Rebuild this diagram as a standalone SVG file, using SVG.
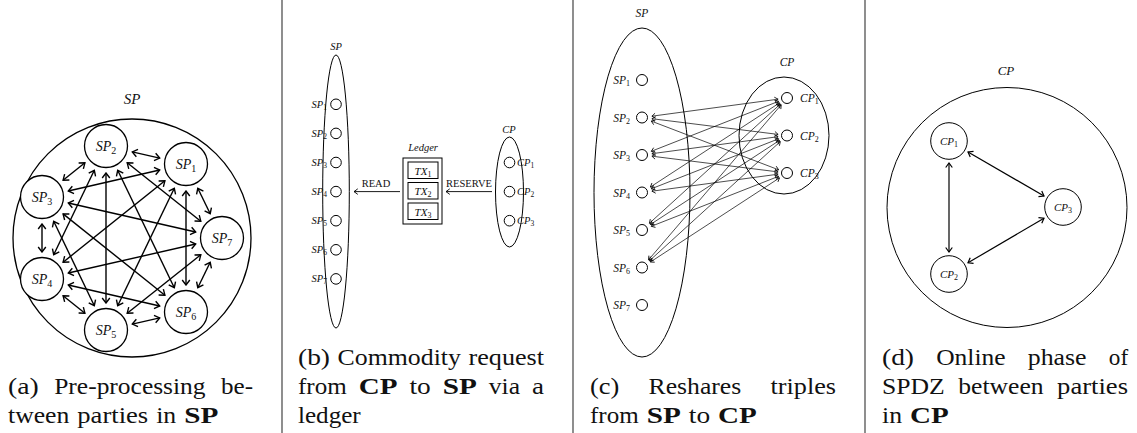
<svg xmlns="http://www.w3.org/2000/svg" width="1137" height="433" viewBox="0 0 1137 433">
<defs>
<style>
text{font-family:"Liberation Serif","DejaVu Serif",serif;fill:#111}
.m{font-style:italic}
.b{font-weight:bold}
.cap{font-size:24px}
.ln{fill:none;stroke:#000}
.na{fill:#fff;stroke:#000;stroke-width:1.3}
.nb{fill:none;stroke:#000;stroke-width:1}
.ea{stroke:#000;stroke-width:1.4;fill:none;marker-start:url(#ha);marker-end:url(#ha)}
.ec{stroke:#000;stroke-width:0.7;fill:none;marker-start:url(#hc);marker-end:url(#hc)}
.ed{stroke:#000;stroke-width:1.2;fill:none;marker-start:url(#hd);marker-end:url(#hd)}
.eb{stroke:#000;stroke-width:0.9;fill:none;marker-end:url(#hb)}
.sep{stroke:#444;stroke-width:1.2}
.la{font-size:14px}
.lb{font-size:10.5px}
.lc{font-size:11.5px}
</style>
<marker id="ha" markerUnits="userSpaceOnUse" markerWidth="8" markerHeight="12" viewBox="-7 -6 8 12" refX="0" refY="0" orient="auto-start-reverse"><path d="M-5,-3.8 L0,0 L-5,3.8" fill="none" stroke="#000" stroke-width="1.4"/></marker>
<marker id="hc" markerUnits="userSpaceOnUse" markerWidth="6" markerHeight="8" viewBox="-5 -4 6 8" refX="0" refY="0" orient="auto-start-reverse"><path d="M-3.5,-2.5 L0,0 L-3.5,2.5" fill="none" stroke="#000" stroke-width="0.8"/></marker>
<marker id="hd" markerUnits="userSpaceOnUse" markerWidth="8" markerHeight="10" viewBox="-6 -5 8 10" refX="0" refY="0" orient="auto-start-reverse"><path d="M-4.5,-3.3 L0,0 L-4.5,3.3" fill="none" stroke="#000" stroke-width="1.2"/></marker>
<marker id="hb" markerUnits="userSpaceOnUse" markerWidth="7" markerHeight="8" viewBox="-5 -4 7 8" refX="0" refY="0" orient="auto"><path d="M-3.8,-2.8 L0,0 L-3.8,2.8" fill="none" stroke="#000" stroke-width="0.9"/></marker>
</defs>

<g id="separators">
<line x1="282" y1="0" x2="282" y2="433" class="sep"/>
<line x1="573" y1="0" x2="573" y2="433" class="sep"/>
<line x1="865" y1="0" x2="865" y2="433" class="sep"/>
</g>

<!-- Panel (a) -->
<g id="a-group">
<circle cx="132" cy="238" r="119" class="ln" stroke-width="1.3"/>
<text x="132" y="104" class="m" font-size="15" text-anchor="middle">SP</text>
</g>
<g id="a-connectors">
<line x1="159.7" y1="158.1" x2="132.3" y2="151.9" class="ea"/>
<line x1="159.7" y1="170.0" x2="68.3" y2="191.0" class="ea"/>
<line x1="164.9" y1="180.8" x2="63.1" y2="262.2" class="ea"/>
<line x1="174.3" y1="188.3" x2="117.7" y2="305.7" class="ea"/>
<line x1="186" y1="191" x2="186" y2="285" class="ea"/>
<line x1="197.8" y1="188.3" x2="210.2" y2="213.7" class="ea"/>
<line x1="84.9" y1="162.8" x2="63.1" y2="180.2" class="ea"/>
<line x1="94.3" y1="170.3" x2="53.7" y2="254.7" class="ea"/>
<line x1="106" y1="173" x2="106" y2="303" class="ea"/>
<line x1="117.7" y1="170.3" x2="174.3" y2="287.7" class="ea"/>
<line x1="127.2" y1="162.8" x2="200.8" y2="221.2" class="ea"/>
<line x1="42" y1="224" x2="42" y2="252" class="ea"/>
<line x1="53.7" y1="221.3" x2="94.3" y2="305.7" class="ea"/>
<line x1="63.1" y1="213.9" x2="164.9" y2="295.2" class="ea"/>
<line x1="68.3" y1="203.0" x2="195.7" y2="232.0" class="ea"/>
<line x1="63.1" y1="295.8" x2="84.9" y2="313.2" class="ea"/>
<line x1="68.3" y1="285.0" x2="159.7" y2="306.0" class="ea"/>
<line x1="68.3" y1="273.0" x2="195.7" y2="244.0" class="ea"/>
<line x1="132.3" y1="324.1" x2="159.7" y2="317.9" class="ea"/>
<line x1="127.2" y1="313.2" x2="200.8" y2="254.8" class="ea"/>
<line x1="197.8" y1="287.7" x2="210.2" y2="262.3" class="ea"/>
</g>
<g id="a-SP1"><circle cx="186" cy="164" r="21.5" class="na"/><text x="186" y="169" class="m la" text-anchor="middle">SP<tspan font-size="10" font-style="normal" dy="3">1</tspan></text></g>
<g id="a-SP2"><circle cx="106" cy="146" r="21.5" class="na"/><text x="106" y="151" class="m la" text-anchor="middle">SP<tspan font-size="10" font-style="normal" dy="3">2</tspan></text></g>
<g id="a-SP3"><circle cx="42" cy="197" r="21.5" class="na"/><text x="42" y="202" class="m la" text-anchor="middle">SP<tspan font-size="10" font-style="normal" dy="3">3</tspan></text></g>
<g id="a-SP4"><circle cx="42" cy="279" r="21.5" class="na"/><text x="42" y="284" class="m la" text-anchor="middle">SP<tspan font-size="10" font-style="normal" dy="3">4</tspan></text></g>
<g id="a-SP5"><circle cx="106" cy="330" r="21.5" class="na"/><text x="106" y="335" class="m la" text-anchor="middle">SP<tspan font-size="10" font-style="normal" dy="3">5</tspan></text></g>
<g id="a-SP6"><circle cx="186" cy="312" r="21.5" class="na"/><text x="186" y="317" class="m la" text-anchor="middle">SP<tspan font-size="10" font-style="normal" dy="3">6</tspan></text></g>
<g id="a-SP7"><circle cx="222" cy="238" r="21.5" class="na"/><text x="222" y="243" class="m la" text-anchor="middle">SP<tspan font-size="10" font-style="normal" dy="3">7</tspan></text></g>
<g id="a-caption" class="cap">
<text x="8" y="394" textLength="30.7" lengthAdjust="spacingAndGlyphs">(a)</text>
<text x="54.2" y="394" textLength="151.4" lengthAdjust="spacingAndGlyphs">Pre-processing</text>
<text x="221" y="394" textLength="32" lengthAdjust="spacingAndGlyphs">be-</text>
<text x="8" y="423" textLength="61.3" lengthAdjust="spacingAndGlyphs">tween</text>
<text x="77.3" y="423" textLength="70.9" lengthAdjust="spacingAndGlyphs">parties</text>
<text x="156.2" y="423" textLength="20" lengthAdjust="spacingAndGlyphs">in</text>
<text x="184.2" y="423" class="b" textLength="34.1" lengthAdjust="spacingAndGlyphs">SP</text>
</g>

<!-- Panel (b) -->
<g id="b-SP">
<ellipse cx="336" cy="191.5" rx="13.3" ry="136.5" class="nb"/>
<text x="336" y="50" class="m lb" text-anchor="middle">SP</text>
</g>
<g id="b-SP1"><circle cx="336" cy="104.3" r="5.3" class="nb"/><text x="327" y="108" class="m lb" text-anchor="end">SP<tspan font-size="7.5" font-style="normal" dy="2">1</tspan></text></g>
<g id="b-SP2"><circle cx="336" cy="133.4" r="5.3" class="nb"/><text x="327" y="137" class="m lb" text-anchor="end">SP<tspan font-size="7.5" font-style="normal" dy="2">2</tspan></text></g>
<g id="b-SP3"><circle cx="336" cy="162.5" r="5.3" class="nb"/><text x="327" y="166" class="m lb" text-anchor="end">SP<tspan font-size="7.5" font-style="normal" dy="2">3</tspan></text></g>
<g id="b-SP4"><circle cx="336" cy="191.6" r="5.3" class="nb"/><text x="327" y="195" class="m lb" text-anchor="end">SP<tspan font-size="7.5" font-style="normal" dy="2">4</tspan></text></g>
<g id="b-SP5"><circle cx="336" cy="220.7" r="5.3" class="nb"/><text x="327" y="224" class="m lb" text-anchor="end">SP<tspan font-size="7.5" font-style="normal" dy="2">5</tspan></text></g>
<g id="b-SP6"><circle cx="336" cy="249.8" r="5.3" class="nb"/><text x="327" y="253" class="m lb" text-anchor="end">SP<tspan font-size="7.5" font-style="normal" dy="2">6</tspan></text></g>
<g id="b-SP7"><circle cx="336" cy="278.9" r="5.3" class="nb"/><text x="327" y="282" class="m lb" text-anchor="end">SP<tspan font-size="7.5" font-style="normal" dy="2">7</tspan></text></g>
<g id="b-ledger">
<text x="423" y="151" class="m lb" text-anchor="middle">Ledger</text>
<rect x="403" y="158" width="39" height="66" class="nb" stroke-width="1.1"/>
<rect x="408" y="162" width="30" height="16.5" class="nb"/>
<rect x="408" y="182.5" width="30" height="16.5" class="nb"/>
<rect x="408" y="203" width="30" height="16.5" class="nb"/>
<text x="423" y="174.5" class="m" font-size="11" text-anchor="middle">TX<tspan font-size="8" font-style="normal" dy="2">1</tspan></text>
<text x="423" y="195" class="m" font-size="11" text-anchor="middle">TX<tspan font-size="8" font-style="normal" dy="2">2</tspan></text>
<text x="423" y="215.5" class="m" font-size="11" text-anchor="middle">TX<tspan font-size="8" font-style="normal" dy="2">3</tspan></text>
</g>
<g id="b-CP">
<ellipse cx="509.5" cy="192" rx="14" ry="55" class="nb"/>
<text x="509" y="133" class="m lb" text-anchor="middle">CP</text>
</g>
<g id="b-CP1"><circle cx="509.5" cy="162.5" r="5.3" class="nb"/><text x="517" y="166" class="m lb">CP<tspan font-size="7.5" font-style="normal" dy="2">1</tspan></text></g>
<g id="b-CP2"><circle cx="509.5" cy="191.6" r="5.3" class="nb"/><text x="517" y="195" class="m lb">CP<tspan font-size="7.5" font-style="normal" dy="2">2</tspan></text></g>
<g id="b-CP3"><circle cx="509.5" cy="220.7" r="5.3" class="nb"/><text x="517" y="224" class="m lb">CP<tspan font-size="7.5" font-style="normal" dy="2">3</tspan></text></g>
<g id="b-connectors">
<line x1="400" y1="191.6" x2="354" y2="191.6" class="eb"/>
<line x1="492" y1="191.6" x2="446" y2="191.6" class="eb"/>
<text x="376" y="187" font-size="10.5" text-anchor="middle">READ</text>
<text x="469" y="187" font-size="10.5" text-anchor="middle">RESERVE</text>
</g>
<g id="b-caption" class="cap">
<text x="298" y="365" textLength="32" lengthAdjust="spacingAndGlyphs">(b)</text>
<text x="337.6" y="365" textLength="123.3" lengthAdjust="spacingAndGlyphs">Commodity</text>
<text x="468.5" y="365" textLength="75.5" lengthAdjust="spacingAndGlyphs">request</text>
<text x="298" y="394" textLength="48.7" lengthAdjust="spacingAndGlyphs">from</text>
<text x="358.7" y="394" class="b" textLength="38.7" lengthAdjust="spacingAndGlyphs">CP</text>
<text x="409.4" y="394" textLength="21.3" lengthAdjust="spacingAndGlyphs">to</text>
<text x="442.7" y="394" class="b" textLength="34.1" lengthAdjust="spacingAndGlyphs">SP</text>
<text x="488.8" y="394" textLength="31.3" lengthAdjust="spacingAndGlyphs">via</text>
<text x="532.1" y="394" textLength="12" lengthAdjust="spacingAndGlyphs">a</text>
<text x="298" y="423" textLength="62.7" lengthAdjust="spacingAndGlyphs">ledger</text>
</g>

<!-- Panel (c) -->
<g id="c-SP">
<ellipse cx="642" cy="192.5" rx="48" ry="164.5" class="nb"/>
<text x="642" y="17" class="m lc" text-anchor="middle">SP</text>
</g>
<g id="c-CP">
<ellipse cx="784" cy="135.5" rx="45" ry="58.5" class="nb"/>
<text x="787" y="66" class="m lc" text-anchor="middle">CP</text>
</g>
<g id="c-connectors">
<line x1="651.9" y1="116.2" x2="778.1" y2="99.2" class="ec"/>
<line x1="651.9" y1="118.7" x2="778.1" y2="134.4" class="ec"/>
<line x1="651.3" y1="121.1" x2="778.6" y2="169.8" class="ec"/>
<line x1="651.3" y1="151.3" x2="778.6" y2="101.3" class="ec"/>
<line x1="651.9" y1="153.7" x2="778.1" y2="136.7" class="ec"/>
<line x1="651.9" y1="156.2" x2="778.1" y2="171.9" class="ec"/>
<line x1="650.4" y1="187.0" x2="779.5" y2="102.9" class="ec"/>
<line x1="651.3" y1="188.8" x2="778.6" y2="138.8" class="ec"/>
<line x1="651.9" y1="191.2" x2="778.1" y2="174.2" class="ec"/>
<line x1="649.4" y1="223.3" x2="780.3" y2="104.1" class="ec"/>
<line x1="650.4" y1="224.5" x2="779.5" y2="140.4" class="ec"/>
<line x1="651.3" y1="226.3" x2="778.6" y2="176.3" class="ec"/>
<line x1="648.5" y1="259.9" x2="781.2" y2="104.8" class="ec"/>
<line x1="649.4" y1="260.8" x2="780.3" y2="141.6" class="ec"/>
<line x1="650.4" y1="262.0" x2="779.5" y2="177.9" class="ec"/>
</g>
<g id="c-SP1"><circle cx="642" cy="80" r="5.5" class="nb"/><text x="630" y="84" class="m lc" text-anchor="end">SP<tspan font-size="8" font-style="normal" dy="2">1</tspan></text></g>
<g id="c-SP2"><circle cx="642" cy="117.5" r="5.5" class="nb"/><text x="630" y="121.5" class="m lc" text-anchor="end">SP<tspan font-size="8" font-style="normal" dy="2">2</tspan></text></g>
<g id="c-SP3"><circle cx="642" cy="155" r="5.5" class="nb"/><text x="630" y="159" class="m lc" text-anchor="end">SP<tspan font-size="8" font-style="normal" dy="2">3</tspan></text></g>
<g id="c-SP4"><circle cx="642" cy="192.5" r="5.5" class="nb"/><text x="630" y="196.5" class="m lc" text-anchor="end">SP<tspan font-size="8" font-style="normal" dy="2">4</tspan></text></g>
<g id="c-SP5"><circle cx="642" cy="230" r="5.5" class="nb"/><text x="630" y="234" class="m lc" text-anchor="end">SP<tspan font-size="8" font-style="normal" dy="2">5</tspan></text></g>
<g id="c-SP6"><circle cx="642" cy="267.5" r="5.5" class="nb"/><text x="630" y="271.5" class="m lc" text-anchor="end">SP<tspan font-size="8" font-style="normal" dy="2">6</tspan></text></g>
<g id="c-SP7"><circle cx="642" cy="305" r="5.5" class="nb"/><text x="630" y="309" class="m lc" text-anchor="end">SP<tspan font-size="8" font-style="normal" dy="2">7</tspan></text></g>
<g id="c-CP1"><circle cx="787" cy="98" r="5.5" class="nb"/><text x="800" y="102" class="m lc">CP<tspan font-size="8" font-style="normal" dy="2">1</tspan></text></g>
<g id="c-CP2"><circle cx="787" cy="135.5" r="5.5" class="nb"/><text x="800" y="139.5" class="m lc">CP<tspan font-size="8" font-style="normal" dy="2">2</tspan></text></g>
<g id="c-CP3"><circle cx="787" cy="173" r="5.5" class="nb"/><text x="800" y="177" class="m lc">CP<tspan font-size="8" font-style="normal" dy="2">3</tspan></text></g>
<g id="c-caption" class="cap">
<text x="590" y="394" textLength="29.3" lengthAdjust="spacingAndGlyphs">(c)</text>
<text x="648.6" y="394" textLength="92.6" lengthAdjust="spacingAndGlyphs">Reshares</text>
<text x="770.5" y="394" textLength="65.5" lengthAdjust="spacingAndGlyphs">triples</text>
<text x="590" y="423" textLength="48.7" lengthAdjust="spacingAndGlyphs">from</text>
<text x="646.7" y="423" class="b" textLength="34.1" lengthAdjust="spacingAndGlyphs">SP</text>
<text x="688.8" y="423" textLength="21.3" lengthAdjust="spacingAndGlyphs">to</text>
<text x="718.1" y="423" class="b" textLength="38.7" lengthAdjust="spacingAndGlyphs">CP</text>
</g>

<!-- Panel (d) -->
<g id="d-CP">
<circle cx="1007" cy="207.5" r="120" class="nb" stroke-width="1.2"/>
<text x="1006" y="75" class="m" font-size="13" text-anchor="middle">CP</text>
</g>
<g id="d-connectors">
<line x1="949" y1="163" x2="949" y2="252" class="ed"/>
<line x1="968" y1="152" x2="1044" y2="196" class="ed"/>
<line x1="968" y1="262.8" x2="1044" y2="218.2" class="ed"/>
</g>
<g id="d-CP1"><circle cx="949" cy="141" r="18.3" class="nb" stroke-width="1.2"/><text x="949" y="145" class="m" font-size="11" text-anchor="middle">CP<tspan font-size="8" font-style="normal" dy="2">1</tspan></text></g>
<g id="d-CP2"><circle cx="949" cy="274" r="18.3" class="nb" stroke-width="1.2"/><text x="949" y="278" class="m" font-size="11" text-anchor="middle">CP<tspan font-size="8" font-style="normal" dy="2">2</tspan></text></g>
<g id="d-CP3"><circle cx="1063" cy="207" r="18.3" class="nb" stroke-width="1.2"/><text x="1063" y="211" class="m" font-size="11" text-anchor="middle">CP<tspan font-size="8" font-style="normal" dy="2">3</tspan></text></g>
<g id="d-caption" class="cap">
<text x="882" y="365" textLength="32" lengthAdjust="spacingAndGlyphs">(d)</text>
<text x="936.2" y="365" textLength="69.4" lengthAdjust="spacingAndGlyphs">Online</text>
<text x="1027.8" y="365" textLength="58.8" lengthAdjust="spacingAndGlyphs">phase</text>
<text x="1108.8" y="365" textLength="19.3" lengthAdjust="spacingAndGlyphs">of</text>
<text x="882" y="394" textLength="62.7" lengthAdjust="spacingAndGlyphs">SPDZ</text>
<text x="958.3" y="394" textLength="85.3" lengthAdjust="spacingAndGlyphs">between</text>
<text x="1057.1" y="394" textLength="70.9" lengthAdjust="spacingAndGlyphs">parties</text>
<text x="882" y="423" textLength="20" lengthAdjust="spacingAndGlyphs">in</text>
<text x="910" y="423" class="b" textLength="38.7" lengthAdjust="spacingAndGlyphs">CP</text>
</g>
</svg>
